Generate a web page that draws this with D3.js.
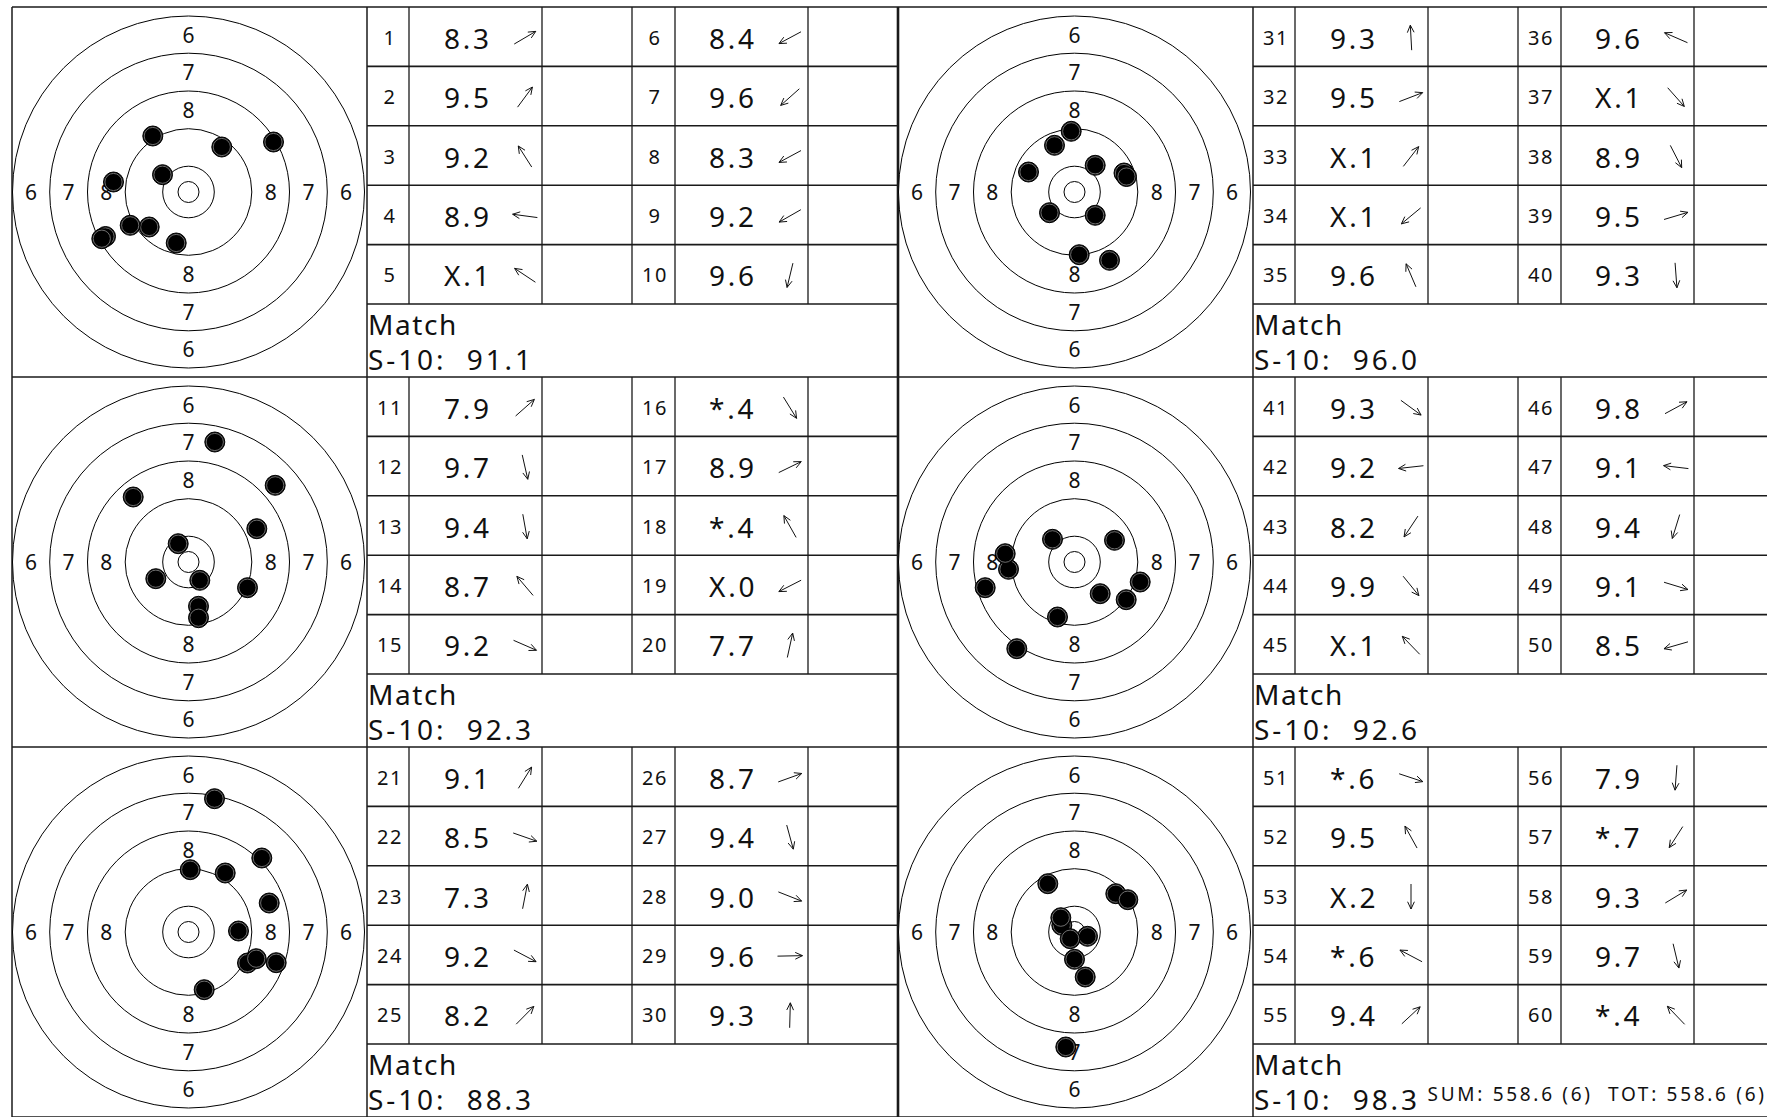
<!DOCTYPE html>
<html>
<head>
<meta charset="utf-8">
<script src="https://cdn.jsdelivr.net/npm/d3@7"></script>
<style>
html, body { margin: 0; padding: 0; background: #fff; overflow: hidden; }
svg { display: block; }
text { font-family: "Noto Sans", sans-serif; fill: #111; white-space: pre; }
</style>
</head>
<body>
<svg id="chart" width="1767" height="1117"></svg>
<script>
// shot numbers, 10 per series
var shotNo = [1,2,3,4,5,6,7,8,9,10, 11,12,13,14,15,16,17,18,19,20,
              21,22,23,24,25,26,27,28,29,30, 31,32,33,34,35,36,37,38,39,40,
              41,42,43,44,45,46,47,48,49,50, 51,52,53,54,55,56,57,58,59,60];

// score as printed in the card
var scores = ["8.3","9.5","9.2","8.9","X.1","8.4","9.6","8.3","9.2","9.6",
              "7.9","9.7","9.4","8.7","9.2","*.4","8.9","*.4","X.0","7.7",
              "9.1","8.5","7.3","9.2","8.2","8.7","9.4","9.0","9.6","9.3",
              "9.3","9.5","X.1","X.1","9.6","9.6","X.1","8.9","9.5","9.3",
              "9.3","9.2","8.2","9.9","X.1","9.8","9.1","9.4","9.1","8.5",
              "*.6","9.5","X.2","*.6","9.4","7.9","*.7","9.3","9.7","*.4"];

// hit position from target centre (right +, down +), target units (6 ring = 176)
var shotX = [85,33.3,-35.7,-75,-26,-83,-39.3,-86.7,-58.3,-12.3,
             86.7,10,10,-55.3,59,11.3,68.3,-10.3,-32.7,26.3,
             36.7,87.7,26,59,73.3,80.7,15.7,67.7,50,1.7,
             -3.3,49.5,20.7,-25,-20,-46,20.7,35,52,4.7,
             51.7,-66,-57.7,25.7,-22,40,-69.3,-17,65.7,-89.3,
             13,-26.7,0,-12.7,41.3,-8.7,-4.3,53.3,10.7,-13.7];
var shotY = [-50,-45,-56,-10,-17.3,44.5,35,46.7,33.3,51,
             -76.7,44.3,55.7,-65,25.7,18.3,-33.3,-18.3,16.7,-120,
             -59,30.7,-133.3,31,-74,-29,57.7,26.7,-1,-62.3,
             -60.7,-19,-26.7,20.7,-46.7,-20,23.3,68.3,-15.5,62.7,
             37.7,7.3,86.7,31.7,-22.7,-21.7,-8.3,55,20,25.7,
             4.3,-48.3,27.3,-6.7,-38.3,115,6.7,-32.3,45,-14.3];

// series totals (S-10)
var seriesTotals = ["91.1","92.3","88.3","96.0","92.6","98.3"];
var seriesName = "Match";
var sumText = "SUM: 558.6 (6)  TOT: 558.6 (6)";

// target rings (outer to inner) and printed ring numbers
var ringRadii = [176, 138.8, 101, 63.3, 25.8, 10.5];
var ringLabels = ["6","7","8"];

var svg = d3.select("#chart");

var originX = 12, originY = 7;
var blockW = 886, blockH = 370;
var targetW = 355;
var colW = [42, 133, 90, 43, 133, 90];
var rowH = 59.4;
var colX = [0];
colW.forEach(function(w, i){ colX.push(colX[i] + w); });

var tScale = d3.scaleLinear().domain([0, 176]).range([0, 176]);

var blocks = d3.range(6).map(function(b){
    return {
        idx: b,
        x: originX + Math.floor(b / 3) * blockW,
        y: originY + (b % 3) * blockH
    };
});

var lineCol = "#1a1a1a";

// grid lines
var grid = svg.append("g").attr("class", "grid").attr("stroke", lineCol).attr("fill", "none");
[0,1,2,3].forEach(function(r){
    grid.append("line")
        .attr("x1", originX).attr("x2", originX + 2 * blockW + 20)
        .attr("y1", originY + r * blockH).attr("y2", originY + r * blockH)
        .attr("stroke-width", 1.6);
});
[0,1,2].forEach(function(c){
    grid.append("line")
        .attr("x1", originX + c * blockW).attr("x2", originX + c * blockW)
        .attr("y1", originY).attr("y2", originY + 3 * blockH)
        .attr("stroke-width", c == 1 ? 2.6 : 1.5);
});

blocks.forEach(function(bk){
    var tx = bk.x + targetW;
    grid.append("line")
        .attr("x1", tx).attr("x2", tx)
        .attr("y1", bk.y).attr("y2", bk.y + blockH)
        .attr("stroke-width", 1.5);
    for (var k = 1; k <= 5; k++){
        grid.append("line")
            .attr("x1", tx).attr("x2", bk.x + blockW)
            .attr("y1", bk.y + k * rowH).attr("y2", bk.y + k * rowH)
            .attr("stroke-width", 1.6);
    }
    for (var c = 1; c < colW.length; c++){
        grid.append("line")
            .attr("x1", tx + colX[c]).attr("x2", tx + colX[c])
            .attr("y1", bk.y).attr("y2", bk.y + 5 * rowH)
            .attr("stroke-width", 1.3);
    }
});

// targets
blocks.forEach(function(bk){
    var cx = bk.x + 176.5, cy = bk.y + blockH / 2;
    var g = svg.append("g").attr("transform", "translate(" + cx + "," + cy + ")");

    g.selectAll("circle.ring").data(ringRadii).enter().append("circle")
        .attr("class", "ring")
        .attr("r", function(d){ return tScale(d); })
        .attr("fill", "#fff").attr("stroke", "#000").attr("stroke-width", 1);

    var labs = [];
    ringLabels.forEach(function(l, i){
        var m = tScale((ringRadii[i] + ringRadii[i + 1]) / 2);
        [[0,-m],[0,m],[-m,0],[m,0]].forEach(function(p){
            labs.push({t: l, x: p[0], y: p[1]});
        });
    });
    g.selectAll("text.rl").data(labs).enter().append("text")
        .attr("class", "rl")
        .attr("x", function(d){ return d.x; })
        .attr("y", function(d){ return d.y + 8; })
        .attr("text-anchor", "middle")
        .attr("font-size", 21)
        .text(function(d){ return d.t; });

    var shots = d3.range(bk.idx * 10, bk.idx * 10 + 10);
    var dots = g.selectAll("g.shot").data(shots).enter().append("g").attr("class", "shot")
        .attr("transform", function(i){ return "translate(" + tScale(shotX[i]) + "," + tScale(shotY[i]) + ")"; });
    dots.append("circle").attr("r", 10).attr("fill", "#000").attr("stroke", "#000").attr("stroke-width", 1);
    dots.append("circle").attr("r", 8.6).attr("fill", "none").attr("stroke", "#8a8a8a").attr("stroke-width", 0.8);
});

// score table
blocks.forEach(function(bk){
    var tx = bk.x + targetW;
    var shots = d3.range(bk.idx * 10, bk.idx * 10 + 10);
    shots.forEach(function(i, j){
        var grp = Math.floor(j / 5), r = j % 5;
        var gx = tx + (grp == 0 ? 0 : colX[3]);
        var rc = bk.y + (r + 0.5) * rowH;

        svg.append("text")
            .attr("x", gx + colW[0] / 2 + 2).attr("y", rc + 8)
            .attr("text-anchor", "middle").attr("font-size", 20)
            .attr("letter-spacing", 1.5)
            .text(shotNo[i]);

        var sx = gx + colW[0];
        svg.append("text")
            .attr("x", sx + 35).attr("y", rc + 12)
            .attr("font-size", 28).attr("letter-spacing", 2.8)
            .text(scores[i]);

        // direction arrow from hit position
        var a = Math.atan2(shotY[i], shotX[i]);
        var ux = Math.cos(a), uy = Math.sin(a);
        var ax = sx + 116, ay = rc + 1, L = 12.5;
        var tipX = ax + ux * L, tipY = ay + uy * L;
        var h = 8, sp = 25 * Math.PI / 180;
        var b1 = a + Math.PI - sp, b2 = a + Math.PI + sp;
        var path = d3.path();
        path.moveTo(ax - ux * L, ay - uy * L);
        path.lineTo(tipX, tipY);
        path.moveTo(tipX + Math.cos(b1) * h, tipY + Math.sin(b1) * h);
        path.lineTo(tipX, tipY);
        path.lineTo(tipX + Math.cos(b2) * h, tipY + Math.sin(b2) * h);
        svg.append("path").attr("d", path.toString())
            .attr("fill", "none").attr("stroke", "#111").attr("stroke-width", 1);
    });

    svg.append("text")
        .attr("x", tx + 1).attr("y", bk.y + 328)
        .attr("font-size", 28).attr("letter-spacing", 1.6)
        .text(seriesName);

    var t = svg.append("text")
        .attr("x", tx + 1).attr("y", bk.y + 363)
        .attr("font-size", 28).attr("letter-spacing", 2.9)
        .text("S-10:\u00a0 " + seriesTotals[bk.idx]);
    if (bk.idx == 5){
        t.append("tspan").attr("font-size", 19).attr("dy", -9).attr("letter-spacing", 2.7)
            .text(" " + sumText);
    }
});
</script>
</body>
</html>
